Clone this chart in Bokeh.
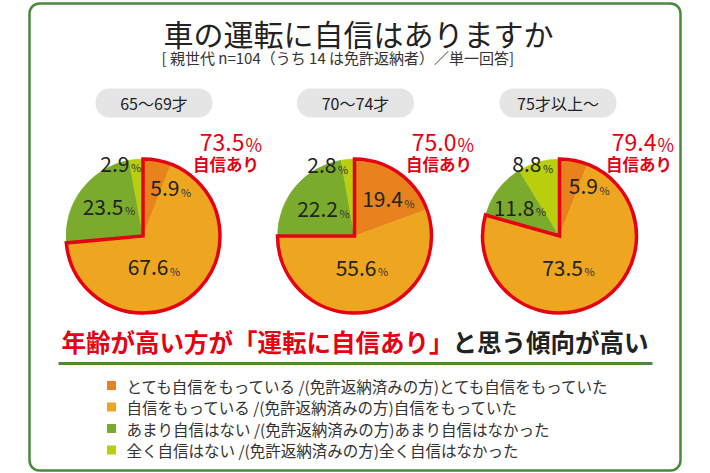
import math
from bokeh.plotting import figure
from bokeh.models import Range1d, BoxAnnotation, ColumnDataSource
from bokeh.core.properties import value
from bokeh.embed import file_html
from bokeh.resources import INLINE

# ---------------- data ----------------
title = "車の運転に自信はありますか"
subtitle = "[ 親世代 n=104（うち 14 は免許返納者）／単一回答]"
headline_red = "年齢が高い方が「運転に自信あり」"
headline_black = "と思う傾向が高い"
ages = ["65～69才", "70～74才", "75才以上～"]
categories = [
    "とても自信をもっている /(免許返納済みの方)とても自信をもっていた",
    "自信をもっている /(免許返納済みの方)自信をもっていた",
    "あまり自信はない /(免許返納済みの方)あまり自信はなかった",
    "全く自信はない /(免許返納済みの方)全く自信はなかった",
]
very_confident = [5.9, 19.4, 5.9]
confident = [67.6, 55.6, 73.5]
not_very = [23.5, 22.2, 11.8]
not_at_all = [2.9, 2.8, 8.8]
confident_label = "自信あり"

colors = ["#e8821c", "#eea51f", "#7bab2d", "#b9cf0d"]
RED = "#e60012"
GREEN_LINE = "#4a8a3c"
FONT = value("Noto Sans CJK JP")

# ---------------- layout ----------------
H = 473
def Y(py):
    return H - py

W_FIG, H_FIG = 700, 472
p = figure(width=W_FIG, height=H_FIG, x_range=Range1d(0, W_FIG), y_range=Range1d(H - H_FIG, H),
           output_backend="svg", toolbar_location=None, min_border=0,
           x_axis_type=None, y_axis_type=None)
p.grid.visible = False
p.outline_line_color = None
p.background_fill_color = "white"
p.border_fill_color = "white"

# outer rounded frame
p.add_layout(BoxAnnotation(left=29, right=680, top=Y(3), bottom=Y(470), fill_alpha=0,
                           line_color=GREEN_LINE, line_alpha=1, line_width=2.5, border_radius=10,
                           level="underlay"))

# title / subtitle
p.text(x=[358], y=[Y(32.5)], text=[title], text_font=FONT, text_font_size="30px",
       text_color="#222222", text_align="center", text_baseline="middle")
p.text(x=[161], y=[Y(57)], text=[subtitle], text_font=FONT, text_font_size="15px",
       text_color="#333333", text_align="left", text_baseline="middle")

pie_cx = [142.5, 354, 559]
pie_cy = 235.5
R = 77
pill_cx = [153.5, 355, 557.5]
pill_cy = 102.5
pill_w, pill_h = 117, 29
total_anchor = [244, 456, 656]
total_right = [258.5, 471.5, 671.5]
label_off = [
    [(36.5, -48), (25.5, 31), (-19.5, -29.3), (-13.5, -72.5)],
    [(48.5, -36.7), (22, 31.7), (-16.5, -27), (-18, -71)],
    [(38.5, -50), (23.5, 31.7), (-25, -28.3), (-18, -71.7)],
]

series = [very_confident, confident, not_very, not_at_all]

for i in range(3):
    vals = [s[i] for s in series]
    tot = sum(vals)
    cx, cy = pie_cx[i], Y(pie_cy)
    # wedges, clockwise from 12 o'clock
    cum = 0.0
    starts, ends = [], []
    for v in vals:
        a0 = math.pi / 2 - 2 * math.pi * (cum + v) / tot
        a1 = math.pi / 2 - 2 * math.pi * cum / tot
        starts.append(a0)
        ends.append(a1)
        cum += v
    src = ColumnDataSource(dict(x=[cx] * 4, y=[cy] * 4, s=starts, e=ends, c=colors))
    p.wedge(x="x", y="y", radius=R, start_angle="s", end_angle="e", fill_color="c",
            line_color="c", line_width=0.5, source=src)
    # red outline around "confident" share
    conf = vals[0] + vals[1]
    p.wedge(x=[cx], y=[cy], radius=R, start_angle=[math.pi / 2 - 2 * math.pi * conf / tot],
            end_angle=[math.pi / 2], fill_alpha=0, line_color=RED, line_width=3.5, line_join="miter")
    # slice labels
    nx, ny, py_, nt, px_ = [], [], [], [], []
    for k, v in enumerate(vals):
        dx, dy = label_off[i][k]
        nx.append(cx + dx)
        ny.append(Y(pie_cy + dy))
        py_.append(Y(pie_cy + dy + 3.5))
        nt.append(f"{v:.1f}")
        px_.append(cx + dx + 1.5)
    p.text(x=nx, y=ny, text=nt, text_font=FONT, text_font_size="21px", text_color="#222222",
           text_align="right", text_baseline="middle")
    p.text(x=px_, y=py_, text=["%"] * 4, text_font=FONT, text_font_size="11px", text_color="#333333",
           text_align="left", text_baseline="middle")
    # pill with age
    p.add_layout(BoxAnnotation(left=pill_cx[i] - pill_w / 2, right=pill_cx[i] + pill_w / 2,
                               top=Y(pill_cy - pill_h / 2), bottom=Y(pill_cy + pill_h / 2),
                               fill_color="#e5e5e5", fill_alpha=1, line_color=None,
                               border_radius=14, level="underlay"))
    p.text(x=[pill_cx[i]], y=[Y(pill_cy)], text=[ages[i]], text_font=FONT, text_font_size="16px",
           text_color="#222222", text_align="center", text_baseline="middle")
    # red total
    p.text(x=[total_anchor[i]], y=[Y(141.5)], text=[f"{conf:.1f}"], text_font=FONT, text_font_size="23px",
           text_color=RED, text_align="right", text_baseline="middle")
    p.text(x=[total_anchor[i] + 1], y=[Y(143)], text=["%"], text_font=FONT, text_font_size="18px",
           text_color=RED, text_align="left", text_baseline="middle")
    p.text(x=[total_right[i]], y=[Y(163.5)], text=[confident_label], text_font=FONT, text_font_size="16.5px",
           text_font_style="bold", text_color=RED, text_align="right", text_baseline="middle")

# headline
p.text(x=[61], y=[Y(341)], text=[headline_red], text_font=FONT, text_font_size="24.5px",
       text_font_style="bold", text_color=RED, text_align="left", text_baseline="middle")
p.text(x=[648], y=[Y(341)], text=[headline_black], text_font=FONT, text_font_size="24.5px",
       text_font_style="bold", text_color="#222222", text_align="right", text_baseline="middle")
p.segment(x0=[58], y0=[Y(363)], x1=[652], y1=[Y(363)], line_color=GREEN_LINE, line_width=3)

# legend
leg_y = [385, 406.5, 428, 449.5]
p.rect(x=[111] * 4, y=[Y(v) for v in leg_y], width=9, height=9, fill_color=colors, line_color=None)
p.text(x=[126] * 4, y=[Y(v) for v in leg_y], text=categories, text_font=FONT, text_font_size="15.5px",
       text_color="#333333", text_align="left", text_baseline="middle")

open("out.html", "w").write(file_html(p, INLINE))
